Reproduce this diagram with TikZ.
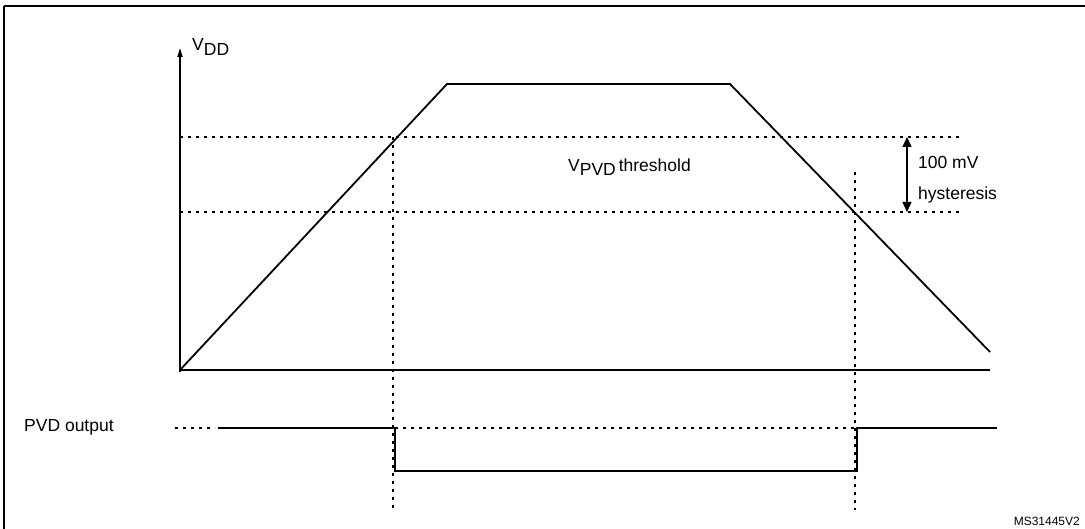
\documentclass[tikz,border=0pt]{standalone}
\usepackage{fontspec}
\setmainfont{Liberation Sans}
\usetikzlibrary{arrows.meta}
\tikzset{
  signal/.style={line width=2.4pt},
  guide/.style={line width=1.2pt,dash pattern=on 3pt off 5pt},
  lbl/.style={inner sep=0pt,anchor=west,font=\fontsize{17.5}{20}\selectfont}
}
\begin{document}
\begin{tikzpicture}[x=1pt,y=-1pt]
\useasboundingbox (0,0) rectangle (1085,529);
\draw[line width=1.5pt] (4,6) -- (1090,6);
\draw[line width=1.5pt] (4,6) -- (4,535);

% axes
\coordinate (o) at (180,370);
\coordinate (ytop) at (180,48);
\draw[line width=1.6pt,-{Triangle[length=9pt,width=5pt]}] (180,372) -- (ytop);
\node[lbl] (vdd) at (192,47) {V\raisebox{-0.45ex}{DD}};
\draw[signal] (o) -- (990,370);

% supply ramp
\coordinate (p1) at (447,84);
\coordinate (p2) at (730,84);
\coordinate (p3) at (990,352);
\draw[line width=1.8pt] (o) -- (p1) -- (p2) -- (p3);

% thresholds
\draw[guide] (180,137) -- (960,137);
\draw[guide] (180,212) -- (960,212);
\draw[guide] (393,137) -- (393,510);
\draw[guide] (855,172) -- (855,510);
\node[lbl] (thr) at (568,167) {V\raisebox{-0.45ex}{PVD}\,threshold};

% hysteresis
\coordinate (h1) at (907,137);
\coordinate (h2) at (907,212);
\draw[line width=1.4pt,{Triangle[length=10pt,width=9pt]}-{Triangle[length=10pt,width=9pt]}] (h1) -- (h2);
\node[lbl] (mv) at (918,162) {100 mV};
\node[lbl] (hys) at (918,195) {hysteresis};

% PVD output
\node[lbl] (pvd) at (24,427) {PVD output};
\draw[guide] (175,428) -- (215,428);
\draw[guide] (395,428) -- (855,428);
\draw[signal] (218,428) -- (395,428) -- (395,471) -- (857,471) -- (857,428) -- (997,428);

\node[inner sep=0pt,anchor=east,font=\fontsize{12}{14}\selectfont] (ref) at (1080,521) {MS31445V2};
\end{tikzpicture}
\end{document}
